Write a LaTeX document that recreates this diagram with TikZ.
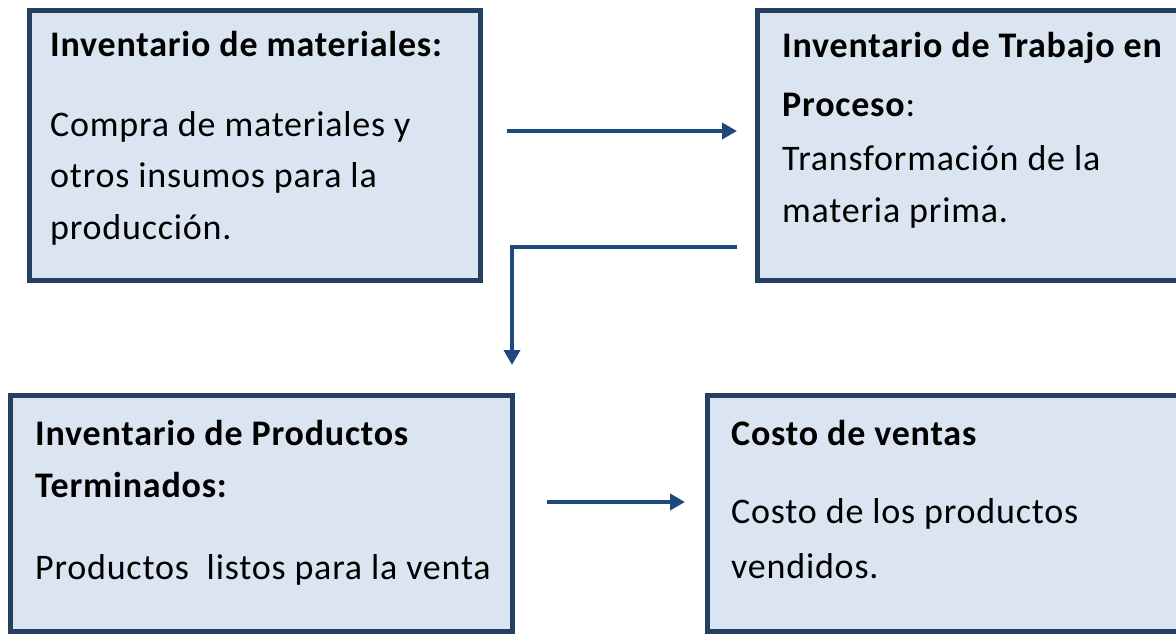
\documentclass[tikz,border=0pt]{standalone}
\usepackage{fontspec}
\setmainfont{Carlito}[LetterSpace=2.2]
\usetikzlibrary{arrows.meta}
\definecolor{boxline}{RGB}{36,63,96}
\definecolor{boxfill}{RGB}{219,229,241}
\definecolor{flowline}{RGB}{31,73,125}
\tikzset{
  invbox/.style={rectangle, draw=boxline, fill=boxfill, line width=5pt, inner sep=0pt, outer sep=0pt},
  txt/.style={anchor=base west, inner sep=0pt, font=\fontsize{36}{44}\selectfont},
  head/.style={txt, font=\fontsize{36}{44}\selectfont\bfseries},
  flow/.style={draw=flowline, line width=4pt, -{Triangle[length=15pt,width=16pt]}}
}
\begin{document}
\begin{tikzpicture}[x=1pt,y=-1pt]
\useasboundingbox (0,0) rectangle (1176,633);
\clip (0,0) rectangle (1176,633);
% boxes
\node (inva)[invbox, minimum width=451pt, minimum height=270pt] at (254.5,145) {};
\node (invb)[invbox, minimum width=453pt, minimum height=270pt] at (983.5,145) {};
\node (invc)[invbox, minimum width=502pt, minimum height=236pt] at (261,513) {};
\node (invd)[invbox, minimum width=503pt, minimum height=236pt] at (958.5,513) {};
% texts
\node (ha)[head] at (50,56) {Inventario de materiales:};
\node (ta1)[txt] at (50,136) {Compra de materiales y};
\node (ta2)[txt] at (50,187) {otros insumos para la};
\node (ta3)[txt] at (50,239) {producción.};
\node (hb1)[head] at (782,57) {Inventario de Trabajo en};
\node (hb2)[txt] at (782,116) {\textbf{Proceso}:};
\node (tb1)[txt] at (782,170) {Transformación de la};
\node (tb2)[txt] at (782,222) {materia prima.};
\node (hc1)[head] at (35,445) {Inventario de Productos};
\node (hc2)[head] at (35,497) {Terminados:};
\node (tc1)[txt] at (35,579) {Productos\ \ listos para la venta};
\node (hd)[head] at (731,445) {Costo de ventas};
\node (td1)[txt] at (731,523) {Costo de los productos};
\node (td2)[txt] at (731,578) {vendidos.};
% arrows
\draw[flow, shorten <=27pt, shorten >=20pt] ([yshift=14pt]inva.east) -- ([yshift=14pt]invb.west);
\draw[flow, shorten <=20pt, shorten >=30pt] ([yshift=-102pt]invb.west) -| (invc.north east);
\draw[flow, shorten <=35pt, shorten >=22pt] ([yshift=11pt]invc.east) -- ([yshift=11pt]invd.west);
\end{tikzpicture}
\end{document}
